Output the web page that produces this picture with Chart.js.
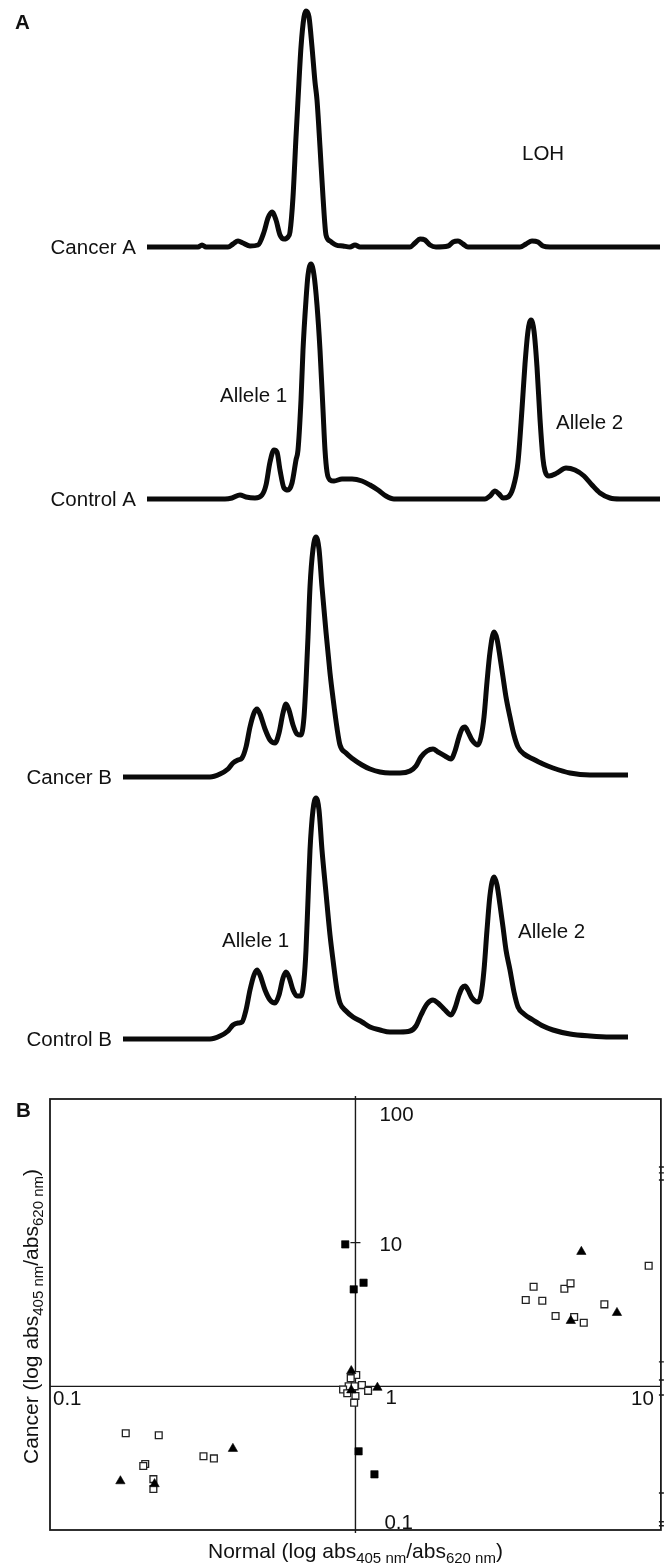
<!DOCTYPE html>
<html>
<head>
<meta charset="utf-8">
<script src="https://cdn.jsdelivr.net/npm/chart.js@4.4.1/dist/chart.umd.min.js"></script>
<style>
html,body{margin:0;padding:0;background:#fff;}
#wrap{position:relative;width:667px;height:1564px;overflow:hidden;background:#fff;}
canvas{position:absolute;left:0;display:block;}
</style>
</head>
<body>
<div id="wrap">
<canvas id="cCancerA"></canvas>
<canvas id="cControlA"></canvas>
<canvas id="cCancerB"></canvas>
<canvas id="cControlB"></canvas>
<canvas id="cScatter"></canvas>
</div>
<script>
// ---------------- DATA ----------------
// Panel A: electropherogram traces (migration position, signal intensity)
const traceNames = ['Cancer A', 'Control A', 'Cancer B', 'Control B'];

const cancerA_pos = [0,51,55,59,81,86,91,96,103,111,117,121,125,129,133,137,141,143,146,149,151,154,157,159,162,165,168,170,173,176,179,183,189,196,203,208,213,263,268,273,278,283,289,301,306,311,316,321,373,379,385,391,396,403,513];
const cancerA_sig = [0,0,2,0,0,3,6,4,1,2,15,29,35,27,12,8,10,15,50,110,147,200,230,236,230,200,165,147,100,50,12,6,2,1,0,2,0,0,4,8,7,2,0,1,5,6,3,0,0,3,6,5,1,0,0];

const controlA_pos = [0,78,85,93,99,108,115,119,123,127,130,133,137,141,145,149,151,154,156,159,161,164,167,170,173,176,178,180,183,187,195,205,215,223,231,239,247,338,343,348,352,356,361,366,371,375,378,381,384,387,390,393,396,398,402,410,419,428,437,445,453,463,473,513];
const controlA_sig = [0,0,1,4,2,1,4,14,37,49,47,29,11,9,16,39,49,99,149,199,224,235,224,194,149,89,49,27,19,18,20,20,18,14,9,3,0,0,3,8,5,1,2,11,37,90,135,168,179,168,132,80,40,28,23,26,31,29,23,14,6,1,0,0];

const cancerB_pos = [0,87,97,105,110,115,119,123,127,131,134,137,142,147,152,156,160,163,166,170,174,178,181,183,185,187,190,193,196,199,203,207,210,214,217,223,230,239,247,257,267,277,287,293,298,304,310,315,322,328,332,336,339,342,345,349,355,358,361,364,367,371,374,377,380,383,387,391,395,401,410,420,430,447,467,487,505];
const cancerB_sig = [0,0,3,8,14,17,19,30,50,64,68,63,48,37,34,44,64,73,67,52,43,42,60,95,140,190,228,240,228,190,145,104,79,49,32,24,18,12,8,5,4,4,6,11,20,26,28,25,21,18,26,40,48,50,45,37,32,40,60,95,125,145,138,120,100,80,60,42,30,23,18,13,9,4,2,2,2];

const controlB_pos = [0,87,97,105,110,115,119,123,127,131,134,137,142,147,152,156,160,163,166,170,174,178,181,183,185,187,190,193,196,199,203,207,210,214,217,223,230,239,247,257,267,277,287,293,298,304,310,315,322,328,332,336,339,342,345,349,355,358,361,364,367,371,374,377,380,383,387,391,395,401,410,420,430,447,467,487,505];
const controlB_sig = [0,0,3,8,14,16,17,29,49,64,69,64,49,39,36,44,61,67,62,49,43,43,59,89,139,189,229,241,229,189,146,104,79,49,36,28,22,17,12,9,7,7,8,13,24,35,39,36,29,24,31,44,51,53,49,41,37,44,69,109,144,162,154,134,112,89,69,47,32,25,19,13,9,5,3,2,2];

// Panel B: Normal (x) vs Cancer (y) absorbance ratios
const openSq_normal = [9.12,3.83,4.83,5.06,3.61,4.09,6.53,4.52,5.20,5.59, 1.006,0.965,0.95,0.994,1.05,1.10,0.911,0.94,1.0,0.99, 0.177,0.227,0.318,0.344,0.205,0.202,0.218,0.218];
const openSq_cancer = [6.91,4.93,4.78,5.21,3.99,3.94,3.72,3.09,3.04,2.77, 1.20,1.14,1.0,1.0,1.02,0.93,0.95,0.894,0.856,0.77, 0.471,0.456,0.326,0.315,0.288,0.279,0.226,0.193];
const triangle_normal = [5.49,7.18,5.07,0.969,1.18,0.969,0.397,0.170,0.220];
const triangle_cancer = [8.65,3.25,2.86,1.28,0.98,0.94,0.368,0.219,0.209];
const filledSq_normal = [0.926,0.987,1.063,1.024,1.154];
const filledSq_cancer = [9.73,4.73,5.26,0.353,0.244];

const xTickValues = [0.1, 1, 10];
const xTickLabels = ['0.1', '1', '10'];
const yTickValues = [100, 10, 0.1];
const yTickLabels = ['100', '10', '0.1'];
const rightEdgeMarks = [33.6, 30.6, 27.3, 1.48, 1.106, 0.87, 0.181, 0.114, 0.107];

// ---------------- RENDER ----------------
const FONT = '"Liberation Sans", Arial, Helvetica, sans-serif';
const FS = 20.5;
const INK = '#111';

function pts(xs, ys) { return xs.map((x, i) => ({ x: x, y: ys[i] })); }

function textPlugin(items) {
  return {
    id: 'labels',
    afterDraw(chart) {
      const ctx = chart.ctx;
      ctx.save();
      items.forEach(it => {
        const p = typeof it.pos === 'function' ? it.pos(chart) : it.pos;
        ctx.font = (it.bold ? 'bold ' : '') + (it.size || FS) + 'px ' + FONT;
        ctx.fillStyle = INK;
        ctx.textAlign = it.align || 'left';
        ctx.textBaseline = 'alphabetic';
        ctx.fillText(it.text, p[0], p[1]);
      });
      ctx.restore();
    }
  };
}

function traceChart(id, xs, ys, g, items) {
  const cv = document.getElementById(id);
  cv.width = 667; cv.height = g.h;
  cv.style.top = g.top + 'px';
  const areaTop = g.baseline - g.yMax;
  return new Chart(cv, {
    type: 'line',
    data: { datasets: [{
      data: pts(xs, ys),
      borderColor: '#0a0a0a', borderWidth: 5, pointRadius: 0,
      cubicInterpolationMode: 'monotone', fill: false, clip: false,
      borderJoinStyle: 'round', borderCapStyle: 'butt'
    }]},
    options: {
      responsive: false, animation: false, devicePixelRatio: 1, events: [],
      layout: { padding: { left: g.left, right: 667 - g.right, top: areaTop - g.top, bottom: g.top + g.h - g.baseline } },
      scales: {
        x: { type: 'linear', min: 0, max: g.xMax, display: false },
        y: { type: 'linear', min: 0, max: g.yMax, display: false }
      },
      plugins: { legend: { display: false }, tooltip: { enabled: false } }
    },
    plugins: [textPlugin(items)]
  });
}

function nameLabel(name) {
  return { text: name, align: 'right', pos: c => [c.chartArea.left - 11, c.scales.y.getPixelForValue(0) + 7] };
}

// Cancer A
traceChart('cCancerA', cancerA_pos, cancerA_sig,
  { top: 0, h: 258, left: 147, right: 660, baseline: 247, yMax: 240, xMax: 513 },
  [ nameLabel(traceNames[0]),
    { text: 'A', bold: true, pos: [15, 29] },
    { text: 'LOH', pos: [522, 160] } ]);

// Control A
traceChart('cControlA', controlA_pos, controlA_sig,
  { top: 258, h: 252, left: 147, right: 660, baseline: 499, yMax: 240, xMax: 513 },
  [ nameLabel(traceNames[1]),
    { text: 'Allele 1', pos: [220, 402 - 258] },
    { text: 'Allele 2', pos: [556, 429 - 258] } ]);

// Cancer B
traceChart('cCancerB', cancerB_pos, cancerB_sig,
  { top: 510, h: 276, left: 123, right: 628, baseline: 777, yMax: 248, xMax: 505 },
  [ nameLabel(traceNames[2]) ]);

// Control B
traceChart('cControlB', controlB_pos, controlB_sig,
  { top: 786, h: 266, left: 123, right: 628, baseline: 1039, yMax: 248, xMax: 505 },
  [ nameLabel(traceNames[3]),
    { text: 'Allele 1', pos: [222, 947 - 786] },
    { text: 'Allele 2', pos: [518, 938 - 786] } ]);

// ---------- Panel B scatter ----------
const SC_TOP = 1052;
const scv = document.getElementById('cScatter');
scv.width = 667; scv.height = 1564 - SC_TOP;
scv.style.top = SC_TOP + 'px';

function drawSubText(ctx, parts, x, y, mainSize, subSize, center) {
  let total = 0;
  parts.forEach(p => { ctx.font = (p[1] ? subSize : mainSize) + 'px ' + FONT; total += ctx.measureText(p[0]).width; });
  let cx = center ? x - total / 2 : x;
  ctx.textAlign = 'left';
  ctx.textBaseline = 'alphabetic';
  parts.forEach(p => {
    ctx.font = (p[1] ? subSize : mainSize) + 'px ' + FONT;
    ctx.fillText(p[0], cx, y + (p[1] ? 5 : 0));
    cx += ctx.measureText(p[0]).width;
  });
}

const axesPlugin = {
  id: 'crossAxes',
  beforeDatasetsDraw(chart) {
    const { ctx, chartArea: a, scales: { x, y } } = chart;
    ctx.save();
    ctx.strokeStyle = '#1a1a1a';
    ctx.lineWidth = 1.8;
    ctx.strokeRect(a.left, a.top, a.right - a.left, a.bottom - a.top);
    ctx.lineWidth = 1.4;
    const x1 = x.getPixelForValue(1), y1 = y.getPixelForValue(1);
    ctx.beginPath();
    ctx.moveTo(x1, a.top - 3); ctx.lineTo(x1, a.bottom + 3);
    ctx.moveTo(a.left, y1); ctx.lineTo(a.right, y1);
    const y10 = y.getPixelForValue(10);
    ctx.moveTo(x1 - 5, y10); ctx.lineTo(x1 + 5, y10);
    rightEdgeMarks.forEach(v => { const py = y.getPixelForValue(v); ctx.moveTo(a.right - 2, py); ctx.lineTo(a.right + 3, py); });
    ctx.stroke();
    ctx.restore();
  },
  afterDraw(chart) {
    const { ctx, chartArea: a, scales: { x, y } } = chart;
    ctx.save();
    ctx.fillStyle = INK;
    ctx.font = FS + 'px ' + FONT;
    ctx.textBaseline = 'alphabetic';
    const x1 = x.getPixelForValue(1), y1 = y.getPixelForValue(1);
    xTickValues.forEach((v, i) => {
      const px = x.getPixelForValue(v);
      if (i === 0) { ctx.textAlign = 'left'; ctx.fillText(xTickLabels[i], px + 3, y1 + 19); }
      else if (i === xTickValues.length - 1) { ctx.textAlign = 'right'; ctx.fillText(xTickLabels[i], px - 7, y1 + 19); }
      else { ctx.textAlign = 'left'; ctx.fillText(xTickLabels[i], px + 30, y1 + 18); }
    });
    yTickValues.forEach((v, i) => {
      const py = y.getPixelForValue(v);
      ctx.textAlign = 'left';
      if (v >= 100) ctx.fillText(yTickLabels[i], x1 + 24, py + 22);
      else if (v <= 0.1) ctx.fillText(yTickLabels[i], x1 + 29, py - 1);
      else ctx.fillText(yTickLabels[i], x1 + 24, py + 8);
    });
    ctx.font = 'bold ' + FS + 'px ' + FONT;
    ctx.fillText('B', 16, 1117 - SC_TOP);
    const titleParts = [['Normal (log abs', false], ['405 nm', true], ['/abs', false], ['620 nm', true], [')', false]];
    drawSubText(ctx, titleParts, (a.left + a.right) / 2, 1558 - SC_TOP, 21, 15, true);
    ctx.save();
    ctx.translate(38, (a.top + a.bottom) / 2 + 2);
    ctx.rotate(-Math.PI / 2);
    const yParts = [['Cancer (log abs', false], ['405 nm', true], ['/abs', false], ['620 nm', true], [')', false]];
    drawSubText(ctx, yParts, 0, 0, 21, 15, true);
    ctx.restore();
    ctx.restore();
  }
};

new Chart(scv, {
  type: 'scatter',
  data: { datasets: [
    { label: 'Triangles', data: pts(triangle_normal, triangle_cancer), pointStyle: 'triangle', pointRadius: 5.4, backgroundColor: '#000', borderColor: '#000', borderWidth: 0.6 },
    { label: 'Filled squares', data: pts(filledSq_normal, filledSq_cancer), pointStyle: 'rect', pointRadius: 5.2, backgroundColor: '#000', borderColor: '#000', borderWidth: 0.6 },
    { label: 'Open squares', data: pts(openSq_normal, openSq_cancer), pointStyle: 'rect', pointRadius: 4.8, backgroundColor: '#fff', borderColor: '#222', borderWidth: 1.3 }
  ]},
  options: {
    responsive: false, animation: false, devicePixelRatio: 1, events: [],
    layout: { padding: { left: 50, right: 2, top: 1099 - SC_TOP, bottom: 1564 - 1530 } },
    scales: {
      x: { type: 'logarithmic', min: 0.1, max: 10, display: false },
      y: { type: 'logarithmic', min: 0.1, max: 100, display: false }
    },
    plugins: { legend: { display: false }, tooltip: { enabled: false } }
  },
  plugins: [axesPlugin]
});
</script>
</body>
</html>
